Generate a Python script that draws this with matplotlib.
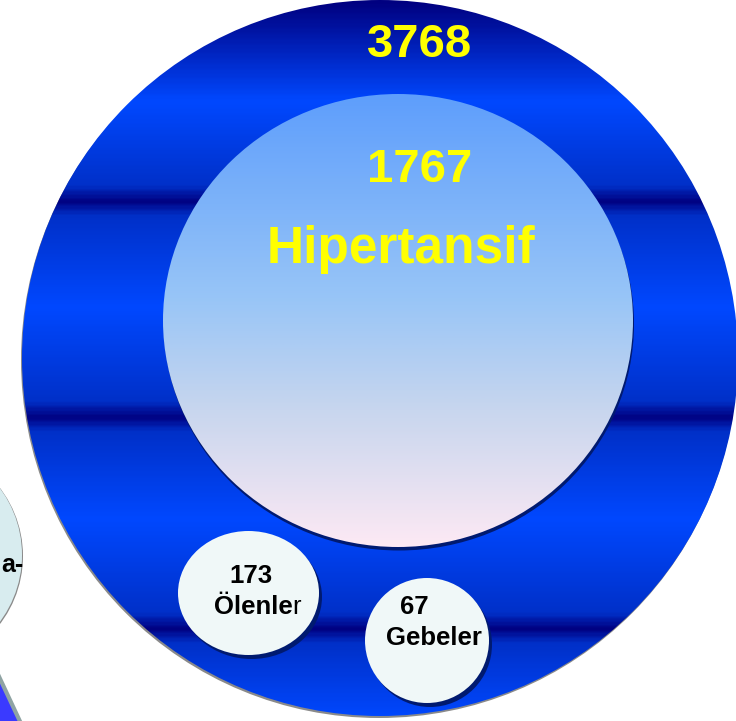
import numpy as np
import matplotlib
matplotlib.use("Agg")
import matplotlib.pyplot as plt
from matplotlib.patches import Ellipse, Circle, Polygon
from matplotlib.colors import LinearSegmentedColormap

# ===============================
# Data
# ===============================
total_value = 3768
hyper_value = 1767
hyper_label = "Hipertansif"
small_values = [173, 67]
small_labels = ["Ölenler", "Gebeler"]
side_label = "a-"

W, H = 736, 721
FONT = "Liberation Sans"

fig = plt.figure(figsize=(W / 100, H / 100), dpi=100)
ax = fig.add_axes([0, 0, 1, 1])
ax.set_xlim(0, W)
ax.set_ylim(H, 0)
ax.axis("off")


def gradient_fill(patch, cmap, y0, y1, x0, x1):
    # vertical gradient clipped to a patch
    grad = np.linspace(0, 1, 400).reshape(-1, 1)
    im = ax.imshow(grad, cmap=cmap, extent=(x0, x1, y1, y0), origin="upper",
                   aspect="auto", interpolation="bilinear", zorder=patch.get_zorder())
    im.set_clip_path(patch)
    return im


# left partial circle + bottom-left shape
ax.add_patch(Circle((-89, 556), 112, facecolor="#8a8a8a", edgecolor="none", zorder=1))
ax.add_patch(Circle((-90, 555), 112, facecolor="#d8ecef", edgecolor="none", zorder=2))
ax.text(23, 572, side_label, ha="right", va="baseline", fontsize=18,
        fontweight="bold", family=FONT, color="black", zorder=3)
ax.add_patch(Polygon([(-5, 668), (24, 730), (-5, 730)], closed=True,
                     facecolor="#3a3aff", edgecolor="#8fa3a3", linewidth=3, zorder=2))

# outer ring
ax.add_patch(Ellipse((379, 360), 716, 716, facecolor="#8a8a8a", edgecolor="none", zorder=3))
outer = Ellipse((380, 358), 716, 716, facecolor="none", edgecolor="none", zorder=4)
ax.add_patch(outer)
dark, mid, bright = "#000080", "#0030c8", "#0048ff"
ys = [0, 100, 185, 200, 215, 307, 402, 417, 432, 520, 615, 630, 645, 721]
cs = [dark, bright, mid, dark, mid, bright, mid, dark, mid, bright, mid, dark, mid, bright]
ring_cmap = LinearSegmentedColormap.from_list("ring", list(zip(np.array(ys) / 721, cs)))
gradient_fill(outer, ring_cmap, 0, 721, 0, W)

# inner ellipse
ax.add_patch(Ellipse((399, 324), 470, 453, facecolor="#001a70", edgecolor="none", zorder=5))
inner = Ellipse((398, 320.5), 470, 453, facecolor="none", edgecolor="none", zorder=6)
ax.add_patch(inner)
inner_cmap = LinearSegmentedColormap.from_list(
    "inner", [(0, "#5e9efc"), (0.45, "#98c5f7"), (0.7, "#c8d6ee"), (1, "#fde9f4")])
gradient_fill(inner, inner_cmap, 94, 547, 160, 636)

# small circles
small_pos = [(248.5, 593, 141, 124), (427, 640.5, 124, 125)]
for cx, cy, w, h in small_pos:
    ax.add_patch(Ellipse((cx + 3, cy + 4), w, h, facecolor="#001a70", edgecolor="none", zorder=7))
    ax.add_patch(Ellipse((cx, cy), w, h, facecolor="#f0f8f8", edgecolor="none", zorder=8))

# texts
yellow = "#ffff00"
ax.text(420, 57, str(total_value), ha="center", va="baseline", fontsize=34,
        fontweight="bold", family=FONT, color=yellow, zorder=9)
ax.text(420, 182, str(hyper_value), ha="center", va="baseline", fontsize=34,
        fontweight="bold", family=FONT, color=yellow, zorder=9)
ax.text(401, 263, hyper_label, ha="center", va="baseline", fontsize=37,
        fontweight="bold", family=FONT, color=yellow, zorder=9)

ax.text(251, 583, str(small_values[0]), ha="center", va="baseline", fontsize=18.5,
        fontweight="bold", family=FONT, color="black", zorder=9)
ax.text(214, 614, small_labels[0][:-1], ha="left", va="baseline", fontsize=18.5,
        fontweight="bold", family=FONT, color="black", zorder=9)
ax.text(292, 614, small_labels[0][-1], ha="left", va="baseline", fontsize=18.5,
        fontweight="normal", family=FONT, color="black", zorder=9)
ax.text(414, 614, str(small_values[1]), ha="center", va="baseline", fontsize=18.5,
        fontweight="bold", family=FONT, color="black", zorder=9)
ax.text(434, 645, small_labels[1], ha="center", va="baseline", fontsize=18.5,
        fontweight="bold", family=FONT, color="black", zorder=9)

ax.set_xlim(0, W)
ax.set_ylim(H, 0)
fig.savefig("out.png", dpi=100)
